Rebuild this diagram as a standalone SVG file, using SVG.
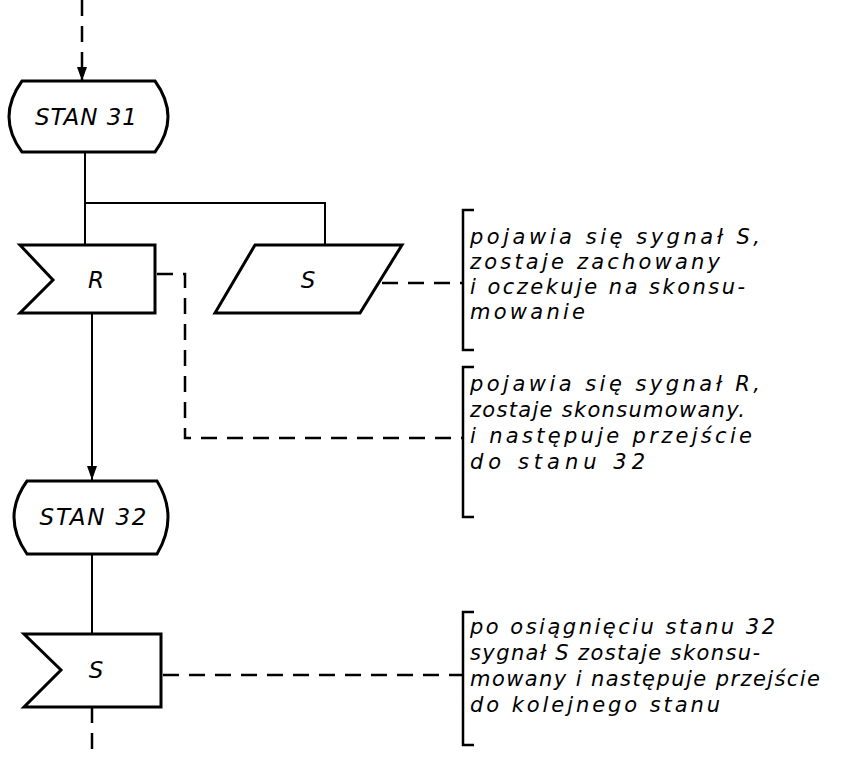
<svg xmlns="http://www.w3.org/2000/svg" width="860" height="759" viewBox="0 0 860 759">
<defs>
<marker id="arr" viewBox="0 0 14 10" refX="14" refY="5" markerWidth="14" markerHeight="10" markerUnits="userSpaceOnUse" orient="auto">
<path d="M0 0 L14 5 L0 10 Z" fill="#000"/>
</marker>
</defs>
<style>
.shape{fill:#fff;stroke:#000;stroke-width:3;stroke-linejoin:miter}
.line{fill:none;stroke:#000;stroke-width:2}
.dash{fill:none;stroke:#000;stroke-width:2.5;stroke-dasharray:16 10}
.br{fill:none;stroke:#000;stroke-width:2.5}
.lbl{font-family:"DejaVu Sans","Liberation Sans",sans-serif;font-style:italic;font-size:23px;fill:#000}
.note{font-family:"DejaVu Sans","Liberation Sans",sans-serif;font-style:italic;font-size:21px;fill:#000}
</style>
<rect width="860" height="759" fill="#fff"/>
<g id="connectors">
<path class="dash" d="M82 0 V81" marker-end="url(#arr)"/>
<path class="line" d="M85 152 V245"/>
<path class="line" d="M85 203 H325 V245"/>
<path class="line" d="M92 313 V480" marker-end="url(#arr)"/>
<path class="line" d="M92 554 V634"/>
<path class="dash" d="M92 707 V759"/>
<path class="dash" d="M157 274 H185 V438 H462"/>
<path class="dash" d="M382 283 H462"/>
<path class="dash" d="M163 675 H462"/>
</g>
<g id="stan31">
<path class="shape" d="M22 81 L155 81 Q181 117 155 152 L22 152 Q-4 117 22 81 Z"/>
<text class="lbl" x="86" y="125" text-anchor="middle" textLength="102" lengthAdjust="spacing">STAN 31</text>
</g>
<g id="inR">
<path class="shape" d="M20 245 L155 245 L155 313 L20 313 L53 280 Z"/>
<text class="lbl" x="96" y="288" text-anchor="middle">R</text>
</g>
<g id="saveS">
<path class="shape" d="M255 245 L402 245 L360 313 L215 313 Z"/>
<text class="lbl" x="308" y="288" text-anchor="middle">S</text>
</g>
<g id="stan32">
<path class="shape" d="M27 481 L157 481 Q179 517 157 554 L27 554 Q1 517 27 481 Z"/>
<text class="lbl" x="93" y="525" text-anchor="middle" textLength="107" lengthAdjust="spacing">STAN 32</text>
</g>
<g id="inS">
<path class="shape" d="M24 634 L161 634 L161 707 L24 707 L61 670 Z"/>
<text class="lbl" x="96" y="678" text-anchor="middle">S</text>
</g>
<g id="note1">
<path class="br" d="M474 210 H463 V350 H474"/>
<text class="note" x="470" y="244" textLength="290" lengthAdjust="spacing">pojawia się sygnał S,</text>
<text class="note" x="470" y="269" textLength="250" lengthAdjust="spacing">zostaje zachowany</text>
<text class="note" x="470" y="294" textLength="275" lengthAdjust="spacing">i oczekuje na skonsu-</text>
<text class="note" x="470" y="319" textLength="115" lengthAdjust="spacing">mowanie</text>
</g>
<g id="note2">
<path class="br" d="M474 367 H463 V517 H474"/>
<text class="note" x="470" y="391" textLength="290" lengthAdjust="spacing">pojawia się sygnał R,</text>
<text class="note" x="470" y="417" textLength="275" lengthAdjust="spacing">zostaje skonsumowany.</text>
<text class="note" x="470" y="443" textLength="282" lengthAdjust="spacing">i następuje przejście</text>
<text class="note" x="470" y="469" textLength="175" lengthAdjust="spacing">do stanu 32</text>
</g>
<g id="note3">
<path class="br" d="M474 612 H463 V745 H474"/>
<text class="note" x="470" y="634" textLength="305" lengthAdjust="spacing">po osiągnięciu stanu 32</text>
<text class="note" x="470" y="660" textLength="290" lengthAdjust="spacing">sygnał S zostaje skonsu-</text>
<text class="note" x="470" y="686" textLength="350" lengthAdjust="spacing">mowany i następuje przejście</text>
<text class="note" x="470" y="712" textLength="250" lengthAdjust="spacing">do kolejnego stanu</text>
</g>
</svg>
